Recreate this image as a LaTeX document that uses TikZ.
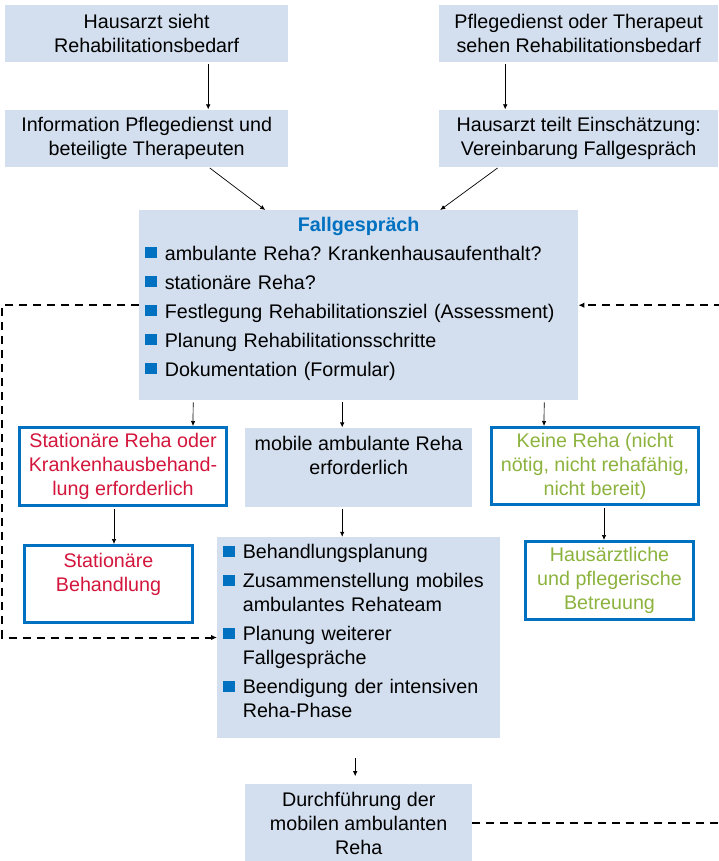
\documentclass[tikz,border=0pt]{standalone}
\usepackage{fontspec}
\setmainfont{Liberation Sans}
\usepackage{xcolor}
\usetikzlibrary{arrows.meta,positioning}
\definecolor{boxBg}{HTML}{D3DFEE}
\definecolor{uniBlue}{HTML}{0070C0}
\definecolor{uniRed}{HTML}{D4163C}
\definecolor{uniGreen}{HTML}{8DB33F}
\frenchspacing
\newcommand{\schrift}{\fontsize{19.7}{24}\selectfont}
\newcommand{\punkt}{\textcolor{uniBlue}{\rule[1.7pt]{11.6pt}{11.6pt}}\hspace{8pt}}
\newcommand{\weiter}{\hspace*{19.6pt}}
\tikzset{
  kasten/.style={fill=boxBg, align=center, inner sep=0pt, minimum height=57pt},
  rahmen/.style={draw=uniBlue, line width=3pt, fill=white, align=center, inner sep=0pt, text=#1},
  liste/.style={anchor=base west, align=left, inner sep=0pt},
  pfeil/.style={-{Latex[length=5pt,width=4.5pt]}, line width=0.7pt, shorten <=2pt},
  rueck/.style={dash pattern=on 8pt off 6pt, line width=2pt, -{Latex[length=6pt,width=5.5pt]}},
}
\begin{document}
\begin{tikzpicture}[x=1pt, y=-1pt, font=\schrift]
\useasboundingbox (0,0) rectangle (719,861);

\node[kasten, minimum width=283pt, anchor=north west] (hsb) at (5,5) {Hausarzt sieht\\Rehabilitationsbedarf};
\node[kasten, minimum width=283pt, below=47pt of hsb] (info) {Information Pflegedienst und\\beteiligte Therapeuten};
\node[kasten, minimum width=279pt, anchor=north west] (pfl) at (439,5) {Pflegedienst oder Therapeut\\sehen Rehabilitationsbedarf};
\node[kasten, minimum width=279pt, below=47pt of pfl] (hat) {Hausarzt teilt Einschätzung:\\Vereinbarung Fallgespräch};

\node[kasten, minimum width=439pt, minimum height=190pt, anchor=north west] (fall) at (139,210) {};
\node[anchor=base, inner sep=0pt, font=\schrift\bfseries\color{uniBlue}] (fallkopf) at ([yshift=-21pt]fall.north) {Fallgespräch};
\node[liste, text width=425pt] (fallliste) at ([shift={(6,50)}]fall.north west) {\punkt ambulante Reha? Krankenhausaufenthalt?\\[5pt]
  \punkt stationäre Reha?\\[5pt]
  \punkt Festlegung Rehabilitationsziel (Assessment)\\[5pt]
  \punkt Planung Rehabilitationsschritte\\[5pt]
  \punkt Dokumentation (Formular)};

\node[rahmen=uniRed, minimum width=207pt, minimum height=78pt, anchor=north west] (stat) at (18,426) {Stationäre Reha oder\\Krankenhausbehand-\\lung erforderlich};
\node[kasten, minimum width=227pt, minimum height=79pt, below=27pt of fall] (mob) {mobile ambulante Reha\\erforderlich\\\mbox{}};
\node[rahmen=uniGreen, minimum width=207pt, minimum height=77pt, anchor=north west] (keine) at (490,426) {Keine Reha (nicht\\nötig, nicht rehafähig,\\nicht bereit)};

\node[rahmen=uniRed, minimum width=168pt, minimum height=77pt, anchor=north west] (statb) at (23,544) {Stationäre\\Behandlung\\\mbox{}};
\node[kasten, minimum width=283pt, minimum height=201pt, below=30pt of mob] (plan) {};
\node[liste, text width=275pt] (planliste) at ([shift={(6,22)}]plan.north west) {\punkt Behandlungsplanung\\[5pt]
  \punkt Zusammenstellung mobiles\\ \weiter ambulantes Rehateam\\[5pt]
  \punkt Planung weiterer\\ \weiter Fallgespräche\\[5pt]
  \punkt Beendigung der intensiven\\ \weiter Reha-Phase};
\node[rahmen=uniGreen, minimum width=168pt, minimum height=78pt, anchor=north west] (haus) at (524,540) {Hausärztliche\\und pflegerische\\Betreuung};

\node[kasten, minimum width=227pt, minimum height=78pt, below=46pt of plan] (durch) {Durchführung der\\mobilen ambulanten\\Reha};

\draw[pfeil] ([xshift=61.5pt]hsb.south) -- ([xshift=61.5pt]info.north);
\draw[pfeil] ([xshift=-73.5pt]pfl.south) -- ([xshift=-73.5pt]hat.north);
\draw[pfeil] ([xshift=61.5pt]info.south) -- ([xshift=-93.5pt]fall.north);
\draw[pfeil] ([xshift=-79.5pt]hat.south) -- ([xshift=81.5pt]fall.north);
\draw[pfeil] ([xshift=-165.5pt]fall.south) -- ([xshift=70pt]stat.north);
\draw[pfeil] ([xshift=-16.5pt]fall.south) -- ([xshift=-16.5pt]mob.north);
\draw[pfeil] ([xshift=185.5pt]fall.south) -- ([xshift=-51pt]keine.north);
\draw[pfeil] ([xshift=-9pt]stat.south) -- ([xshift=5.5pt]statb.north);
\draw[pfeil] ([xshift=-16.5pt]mob.south) -- ([xshift=-16.5pt]plan.north);
\draw[pfeil] ([xshift=9pt]keine.south) -- ([xshift=-5.5pt]haus.north);
\draw[pfeil, shorten <=20pt, shorten >=8pt] ([xshift=-3.5pt]plan.south) -- ([xshift=-3.5pt]durch.north);

\coordinate (links) at (2,0);
\coordinate (rechts) at (723,0);
\draw[rueck] (fall.west) -- (fall.west -| links) |- (plan.west);
\draw[rueck] (durch.east) -- (durch.east -| rechts) |- (fall.east);
\end{tikzpicture}
\end{document}
